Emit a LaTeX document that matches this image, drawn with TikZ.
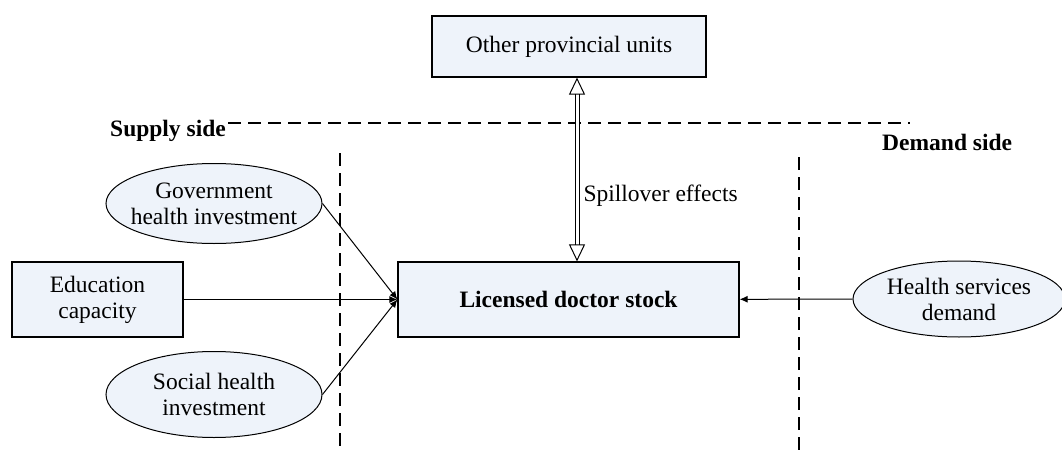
\documentclass[tikz,border=0pt]{standalone}
\usepackage{fontspec}
\setmainfont{Liberation Serif}
\usetikzlibrary{positioning,shapes.geometric,arrows.meta}
\definecolor{boxfill}{HTML}{EEF3FA}

\begin{document}
\begin{tikzpicture}[x=1pt,y=-1pt,->,
  font=\fontsize{23.5}{26}\selectfont,
  box node/.style={rectangle,draw,fill=boxfill,line width=1.2pt,align=center,inner sep=0pt},
  oval node/.style={ellipse,draw,fill=boxfill,line width=1pt,align=center,
    inner xsep=-40pt,inner ysep=-12pt,minimum width=216pt,minimum height=80pt},
  side line/.style={-,dash pattern=on 13pt off 7pt,line width=1.3pt}]

\useasboundingbox (0,0) rectangle (1062,452);

\node[box node,minimum width=274pt,minimum height=61pt] (O) at (569,46.5) {Other provincial units};
\node[box node,minimum width=341pt,minimum height=75pt,font=\fontsize{23.5}{26}\selectfont\bfseries] (L) at (568.5,299.5) {Licensed doctor stock};
\node[box node,minimum width=171pt,minimum height=75pt] (Ed) at (97.5,299.5) {Education\\capacity};
\node[oval node] (G) at (214,203.5) {Government\\health investment};
\node[oval node,minimum height=86pt] (S) at (214,394.5) {Social health\\investment};
\node[oval node,minimum width=212pt,minimum height=76pt] (H) at (959,299) {Health services\\demand};

\node[font=\fontsize{23.5}{26}\selectfont\bfseries,anchor=west,inner sep=0pt] (SS) at (110,131) {Supply side};
\node[font=\fontsize{23.5}{26}\selectfont\bfseries,anchor=west,inner sep=0pt] (DS) at (882,142) {Demand side};

% supply / demand borders
\draw[side line] (228,123) -- (910,123);
\draw[side line] (340,153) -- (340,452);
\draw[side line] (799,157) -- (799,452);

\path[every edge/.style={draw,line width=1pt,-{Latex[length=8pt,width=7pt]}}]
    (G.east) edge (L.west)
    (Ed) edge (L)
    (S.east) edge (L.west)
    (H) edge (L);

\draw[double,double distance=3pt,line width=1pt,
  {Triangle[open,length=17pt,width=16pt]}-{Triangle[open,length=17pt,width=16pt]}]
  ([xshift=8pt]O.south) -- node[pos=0.64,right,inner sep=6pt] {Spillover effects} ([xshift=8.5pt]L.north);
\end{tikzpicture}
\end{document}
